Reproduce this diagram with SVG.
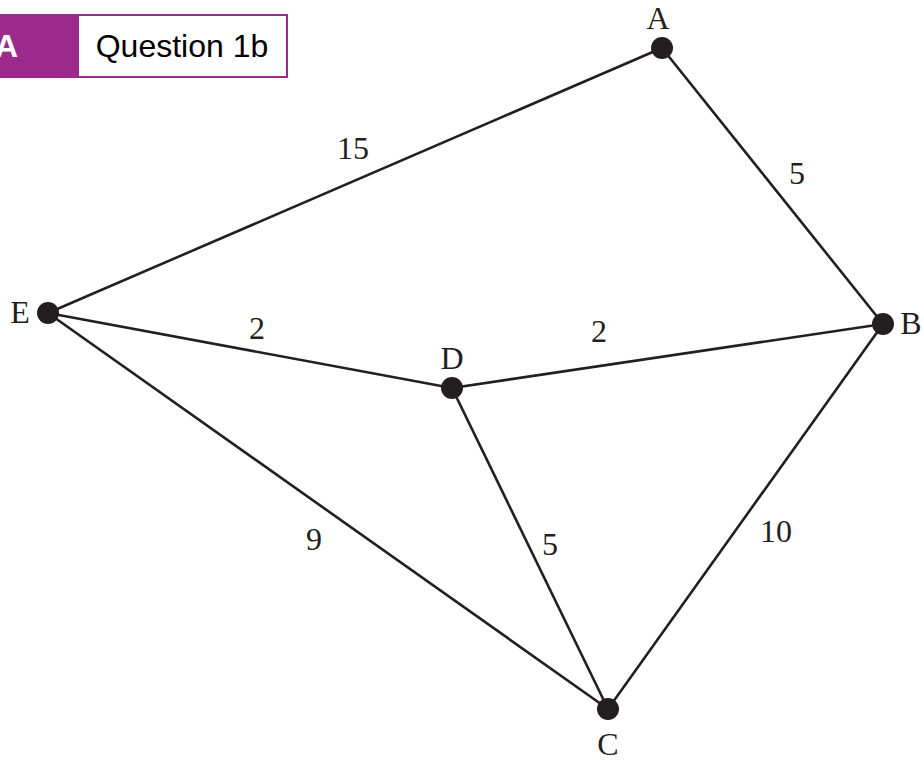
<svg xmlns="http://www.w3.org/2000/svg" width="924" height="760" viewBox="0 0 924 760">
<style>
.edge{stroke:#231f20;stroke-width:2.6;fill:none}
.node{fill:#231f20}
.lbl{font-family:"Liberation Serif","DejaVu Serif",serif;font-size:32px;fill:#231f20;text-anchor:middle}
</style>
<rect width="924" height="760" fill="#ffffff"/>
<g id="header">
<rect x="0" y="14" width="78" height="64" fill="#9c2a8c"/>
<rect x="78" y="15" width="209" height="62" fill="#ffffff" stroke="#9c2a8c" stroke-width="2"/>
<text x="-5" y="57" font-family="Liberation Sans,Arial,sans-serif" font-size="32" font-weight="bold" fill="#ffffff">A</text>
<text x="182" y="57" font-family="Liberation Sans,Arial,sans-serif" font-size="32" fill="#000000" text-anchor="middle">Question 1b</text>
</g>
<g id="edges">
<line class="edge" x1="662" y1="48" x2="48" y2="313"/>
<line class="edge" x1="662" y1="48" x2="883" y2="324"/>
<line class="edge" x1="48" y1="313" x2="452" y2="388"/>
<line class="edge" x1="452" y1="388" x2="883" y2="324"/>
<line class="edge" x1="48" y1="313" x2="608" y2="709"/>
<line class="edge" x1="452" y1="388" x2="608" y2="709"/>
<line class="edge" x1="883" y1="324" x2="608" y2="709"/>
<text class="lbl" x="353" y="159">15</text>
<text class="lbl" x="797" y="184">5</text>
<text class="lbl" x="257" y="339">2</text>
<text class="lbl" x="599" y="342">2</text>
<text class="lbl" x="314" y="550">9</text>
<text class="lbl" x="550" y="555">5</text>
<text class="lbl" x="776" y="542">10</text>
</g>
<g id="node-A"><circle class="node" cx="662" cy="48" r="11"/><text class="lbl" x="658" y="29">A</text></g>
<g id="node-B"><circle class="node" cx="883" cy="324" r="11"/><text class="lbl" x="911" y="334">B</text></g>
<g id="node-C"><circle class="node" cx="608" cy="709" r="11"/><text class="lbl" x="608" y="755">C</text></g>
<g id="node-D"><circle class="node" cx="452" cy="388" r="11"/><text class="lbl" x="452" y="369">D</text></g>
<g id="node-E"><circle class="node" cx="48" cy="313" r="11"/><text class="lbl" x="20" y="323">E</text></g>
</svg>
